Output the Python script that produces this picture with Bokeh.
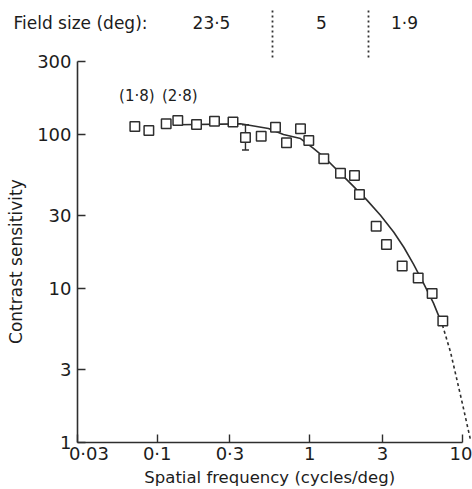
from bokeh.plotting import figure
from bokeh.models import (Range1d, FixedTicker, Label, Whisker, ColumnDataSource, TeeHead,
                          LinearAxis, LinearScale)
from bokeh.embed import file_html
from bokeh.resources import INLINE

# ---- data ----
freq = [0.0713, 0.0881, 0.1145, 0.1364, 0.181, 0.2374, 0.3139, 0.379, 0.4807, 0.5964,
        0.704, 0.870, 0.986, 1.237, 1.591, 1.966, 2.12, 2.728, 3.186, 4.04, 5.145, 6.35, 7.46]
sens = [112.9, 106.3, 117.5, 123.4, 116.3, 122.2, 120.7, 95.8, 97.6, 111.7,
        88.5, 109.0, 91.6, 69.7, 56.2, 54.3, 40.9, 25.4, 19.3, 14.0, 11.7, 9.29, 6.15]

fit_x = [0.1358, 0.352, 0.536, 0.673, 0.870, 1.058, 1.269, 1.591, 1.936, 2.381,
         2.91, 3.56, 4.14, 4.79, 5.57, 6.48, 7.42]
fit_y = [116.0, 117.5, 109.5, 100.1, 94.3, 81.3, 70.0, 55.97, 46.1, 37.4,
         29.9, 23.2, 18.55, 14.39, 10.84, 8.04, 5.79]

ext_x = [7.42, 8.38, 9.17, 10.04, 11.33]
ext_y = [5.79, 3.87, 2.63, 1.78, 1.04]

err_x = [0.379]
err_lo = [79.4]
err_hi = [116.0]

x_ticks = [0.03, 0.1, 0.3, 1, 3, 10]
x_tick_labels = ["\u00a0\u00a0\u00a0\u00a00\u00b703", "0\u00b71", "0\u00b73", "1", "3", "10"]
y_ticks = [1, 3, 10, 30, 100, 300]
y_tick_labels = ["1", "3", "10", "30", "100", "300"]

point_notes = ["(1\u00b78)", "(2\u00b78)"]
note_idx = [0, 3]

header_texts = ["Field size (deg):", "23\u00b75", "5", "1\u00b79"]

FONT = "DejaVu Sans"
INK = "#1c1c1c"
LINE = "#2e2e2e"

# page pixel columns used to place the header strip
HEADER_POS = [80, 211, 321, 404]
DIVIDER_POS = [271.7, 368.3]

p = figure(width=472, height=489, x_axis_type="log", y_axis_type="log",
           x_range=Range1d(0.03, 11.68), y_range=Range1d(1, 640),
           output_backend="svg", toolbar_location=None,
           min_border_left=77, min_border_right=0, min_border_top=10, min_border_bottom=46)
p.outline_line_color = None
p.grid.visible = False

xa = p.xaxis[0]
xa.ticker = FixedTicker(ticks=x_ticks, minor_ticks=[])
xa.major_label_overrides = {t: l for t, l in zip(x_ticks, x_tick_labels)}
xa.bounds = (0.03, 10)
xa.major_label_standoff = 0
xa.axis_label = "Spatial frequency (cycles/deg)\u00a0\u00a0"
xa.axis_label_standoff = 1
ya = p.yaxis[0]
ya.ticker = FixedTicker(ticks=y_ticks, minor_ticks=[])
ya.major_label_overrides = {t: l for t, l in zip(y_ticks, y_tick_labels)}
ya.bounds = (1, 300)
ya.axis_label = "Contrast sensitivity" + "\u00a0" * 13
ya.axis_label_standoff = 8
ya.major_label_standoff = 6
for ax in (xa, ya):
    ax.major_tick_in = 8
    ax.major_tick_out = 0
    ax.minor_tick_in = 0
    ax.minor_tick_out = 0
    ax.axis_line_width = 1.6
    ax.axis_line_color = LINE
    ax.major_tick_line_width = 1.4
    ax.major_tick_line_color = LINE
    ax.major_label_text_font = FONT
    ax.major_label_text_font_size = "18px"
    ax.major_label_text_color = INK
    ax.axis_label_text_font = FONT
    ax.axis_label_text_font_size = "16.5px"
    ax.axis_label_text_font_style = "normal"
    ax.axis_label_text_color = INK
ya.axis_label_text_font_size = "17px"

# header strip: a bare axis along the top of the frame, in page-pixel units
p.extra_x_ranges = {"px": Range1d(77, 472)}
p.extra_x_scales = {"px": LinearScale()}
hax = LinearAxis(x_range_name="px",
                 ticker=FixedTicker(ticks=HEADER_POS, minor_ticks=DIVIDER_POS),
                 major_label_overrides={t: l for t, l in zip(HEADER_POS, header_texts)})
hax.axis_line_color = None
hax.major_tick_line_color = None
hax.major_tick_in = 0
hax.major_tick_out = 0
hax.minor_tick_out = 0
hax.minor_tick_in = 47
hax.minor_tick_line_color = "#333333"
hax.minor_tick_line_width = 1.8
hax.minor_tick_line_dash = "2 3"
hax.major_label_standoff = -22
hax.major_label_text_font = FONT
hax.major_label_text_font_size = "17px"
hax.major_label_text_color = INK
p.add_layout(hax, "above")

# fitted curve (solid) and its extrapolation (dotted)
p.line(fit_x, fit_y, line_color=LINE, line_width=1.6)
p.line(ext_x, ext_y, line_color=LINE, line_width=1.6, line_dash="3 3")

# error bar
esrc = ColumnDataSource(dict(x=err_x, lo=err_lo, hi=err_hi))
p.add_layout(Whisker(base="x", lower="lo", upper="hi", source=esrc, dimension="height",
                     line_color=LINE, line_width=1.4,
                     lower_head=TeeHead(size=7, line_color=LINE, line_width=1.4),
                     upper_head=TeeHead(size=7, line_color=LINE, line_width=1.4)))

# data points
p.scatter(freq, sens, marker="square", size=9.5, fill_color="white",
          line_color=LINE, line_width=1.5)

# notes over points
for note, i in zip(point_notes, note_idx):
    p.add_layout(Label(x=freq[i], y=347, x_units="data", y_units="screen", text=note,
                       text_align="center", text_baseline="alphabetic", x_offset=2,
                       text_font=FONT, text_font_size="15px", text_color=INK))

open("out.html", "w").write(file_html(p, INLINE))
